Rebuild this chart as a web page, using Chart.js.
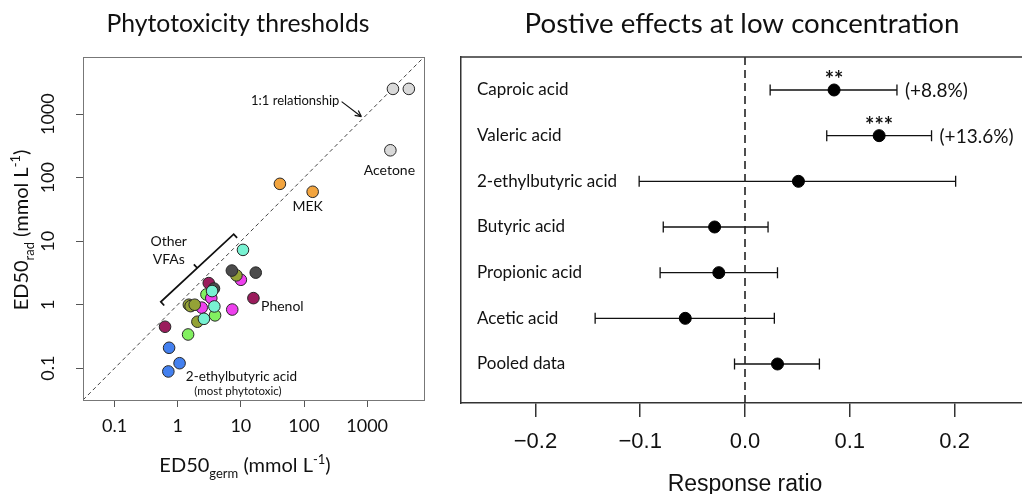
<!DOCTYPE html>
<html>
<head>
<meta charset="utf-8">
<script src="https://cdn.jsdelivr.net/npm/chart.js@4.4.1/dist/chart.umd.min.js"></script>
<style>
  html, body { margin: 0; padding: 0; background: #fff; overflow: hidden; width: 1022px; height: 494px; }
  #left { position: absolute; left: 0; top: 0; }
  #right { position: absolute; left: 450px; top: 0; }
</style>
</head>
<body>
<canvas id="left" width="450" height="494"></canvas>
<canvas id="right" width="590" height="494"></canvas>
<script>
// ---- left panel: ED50 (mmol/L), germination on x, radicle on y
const acetoneX = [2560, 4570, 2330];
const acetoneY = [2500, 2500, 270];
const mekX = [41.5, 137];
const mekY = [80, 60];
const phenolX = [15.8, 3.1, 0.63];
const phenolY = [1.27, 2.19, 0.45];
const ethylbutyricX = [0.73, 1.07, 0.71];
const ethylbutyricY = [0.21, 0.12, 0.089];
const vfaDarkX = [7.2, 17.2, 3.75];
const vfaDarkY = [3.45, 3.2, 1.8];
const vfaOliveX = [8.5, 1.5, 1.6, 1.86, 2.05];
const vfaOliveY = [2.9, 1.0, 0.95, 1.0, 0.54];
const vfaMagentaX = [10, 3.4, 2.4, 7.3];
const vfaMagentaY = [2.47, 1.27, 0.9, 0.84];
const vfaCyanX = [10.8, 3.5, 3.8, 2.6];
const vfaCyanY = [7.3, 1.64, 0.94, 0.6];
const vfaGreenX = [2.85, 3.9, 1.46];
const vfaGreenY = [1.45, 0.68, 0.34];
const thresholdTicks = [0.1, 1, 10, 100, 1000];
const axisRange = [Math.pow(10, -1.5), Math.pow(10, 3.9)];

// ---- right panel: response ratio at low concentration
const acids = ['Caproic acid', 'Valeric acid', '2-ethylbutyric acid', 'Butyric acid', 'Propionic acid', 'Acetic acid', 'Pooled data'];
const ratio = [0.085, 0.128, 0.051, -0.029, -0.025, -0.057, 0.031];
const ciLow = [0.024, 0.078, -0.101, -0.078, -0.081, -0.143, -0.010];
const ciHigh = [0.145, 0.178, 0.201, 0.022, 0.031, 0.028, 0.071];
const stars = ['**', '***', '', '', '', '', ''];
const changes = ['(+8.8%)', '(+13.6%)', '', '', '', '', ''];
const ratioTicks = [-0.2, -0.1, 0, 0.1, 0.2];

const CAL = 'Lato, "Open Sans", sans-serif';
const ARIAL = '"Liberation Sans", Arial, sans-serif';

function fitSize(ctx, text, family, width) {
  ctx.font = '100px ' + family;
  return 100 * width / ctx.measureText(text).width;
}

// text with sub/superscript pieces, centred on x, baseline at y
function richText(ctx, parts, x, y, size, family, rotate) {
  ctx.save();
  ctx.translate(x, y);
  if (rotate) ctx.rotate(-Math.PI / 2);
  const fontFor = m => (m ? Math.round(size * 0.66) : size) + 'px ' + family;
  let w = 0;
  parts.forEach(([t, m]) => { ctx.font = fontFor(m); w += ctx.measureText(t).width; });
  let cx = -w / 2;
  ctx.textBaseline = 'alphabetic';
  ctx.textAlign = 'left';
  ctx.fillStyle = '#111';
  parts.forEach(([t, m]) => {
    ctx.font = fontFor(m);
    const dy = m === -1 ? size * 0.3 : m === 1 ? -size * 0.4 : 0;
    ctx.fillText(t, cx, dy);
    cx += ctx.measureText(t).width;
  });
  ctx.restore();
}

// ================= left chart =================
const groups = [
  { x: acetoneX, y: acetoneY, color: '#d9d9d9' },
  { x: mekX, y: mekY, color: '#f2a43e' },
  { x: vfaCyanX, y: vfaCyanY, color: '#78f2d2' },
  { x: vfaDarkX, y: vfaDarkY, color: '#4b4b4b' },
  { x: vfaOliveX, y: vfaOliveY, color: '#94a236' },
  { x: vfaMagentaX, y: vfaMagentaY, color: '#ee40ee' },
  { x: vfaGreenX, y: vfaGreenY, color: '#82f060' },
  { x: phenolX, y: phenolY, color: '#9a1c5c' },
  { x: ethylbutyricX, y: ethylbutyricY, color: '#4380ef' }
];

const leftNotes = [
  { text: '1:1 relationship', x: 363, y: 1630, align: 'right', size: 13 },
  { text: 'Acetone', x: 2250, y: 131, size: 14 },
  { text: 'MEK', x: 114, y: 35, size: 14 },
  { text: 'Other', x: 0.72, y: 9.8, size: 14 },
  { text: 'VFAs', x: 0.72, y: 5.07, size: 14 },
  { text: 'Phenol', x: 45.4, y: 0.94, size: 14 },
  { text: '2-ethylbutyric acid', x: 10.2, y: 0.0736, size: 13.5 },
  { text: '(most phytotoxic)', x: 9.0, y: 0.0437, size: 11.5 }
];

const leftDecor = {
  id: 'leftDecor',
  afterDraw(chart) {
    const { ctx, chartArea: a, scales: { x, y } } = chart;
    ctx.save();
    // box
    ctx.strokeStyle = '#777';
    ctx.lineWidth = 1;
    ctx.strokeRect(a.left + 0.5, a.top + 0.5, a.right - a.left, a.bottom - a.top);
    // notes
    ctx.fillStyle = '#111';
    ctx.textBaseline = 'middle';
    leftNotes.forEach(n => {
      ctx.font = n.size + 'px ' + CAL;
      ctx.textAlign = n.align || 'center';
      ctx.fillText(n.text, x.getPixelForValue(n.x), y.getPixelForValue(n.y));
    });
    // arrow to the 1:1 line
    const ax0 = x.getPixelForValue(394), ay0 = y.getPixelForValue(1575);
    const ax1 = x.getPixelForValue(813), ay1 = y.getPixelForValue(912);
    ctx.strokeStyle = '#111';
    ctx.lineWidth = 1.2;
    ctx.beginPath();
    ctx.moveTo(ax0, ay0); ctx.lineTo(ax1, ay1);
    const ang = Math.atan2(ay1 - ay0, ax1 - ax0);
    [0.45, -0.45].forEach(d => {
      ctx.moveTo(ax1, ay1);
      ctx.lineTo(ax1 - 7 * Math.cos(ang + d), ay1 - 7 * Math.sin(ang + d));
    });
    ctx.stroke();
    // bracket for other VFAs
    const bx0 = x.getPixelForValue(0.54), by0 = y.getPixelForValue(1.11);
    const bx1 = x.getPixelForValue(7.7), by1 = y.getPixelForValue(12.9);
    const len = Math.hypot(bx1 - bx0, by1 - by0);
    const px = -(by1 - by0) / len * 5, py = (bx1 - bx0) / len * 5;
    const mx = (bx0 + bx1) / 2, my = (by0 + by1) / 2;
    ctx.lineWidth = 1.8;
    ctx.beginPath();
    ctx.moveTo(bx0 + px, by0 + py); ctx.lineTo(bx0, by0); ctx.lineTo(bx1, by1); ctx.lineTo(bx1 + px, by1 + py);
    ctx.moveTo(mx, my); ctx.lineTo(mx - px, my - py);
    ctx.stroke();
    // title
    const ts = fitSize(ctx, 'Phytotoxicity thresholds', CAL, 263);
    ctx.font = ts + 'px ' + CAL;
    ctx.textAlign = 'center';
    ctx.textBaseline = 'alphabetic';
    ctx.fillText('Phytotoxicity thresholds', 238, 32);
    ctx.restore();
    // axis titles
    richText(ctx, [['ED50', 0], ['germ', -1], [' (mmol L', 0], ['-1', 1], [')', 0]], 245, 472, 20, CAL, false);
    richText(ctx, [['ED50', 0], ['rad', -1], [' (mmol L', 0], ['-1', 1], [')', 0]], 28, 230, 20, CAL, true);
  }
};

const leftDatasets = groups.map(g => ({
  type: 'scatter',
  data: g.x.map((v, i) => ({ x: v, y: g.y[i] })),
  backgroundColor: g.color,
  borderColor: '#262626',
  borderWidth: 1,
  pointRadius: 5.8,
  order: 0
}));
leftDatasets.push({
  type: 'line',
  data: axisRange.map(v => ({ x: v, y: v })),
  borderColor: '#444',
  borderWidth: 1,
  borderDash: [4, 3],
  pointRadius: 0,
  fill: false,
  order: 1
});

new Chart(document.getElementById('left'), {
  type: 'scatter',
  data: { datasets: leftDatasets },
  options: {
    responsive: false,
    animation: false,
    layout: { padding: { top: 57, right: 26, left: 0, bottom: 0 } },
    plugins: { legend: { display: false }, tooltip: { enabled: false }, title: { display: false } },
    scales: {
      x: {
        type: 'logarithmic',
        min: axisRange[0], max: axisRange[1],
        afterBuildTicks: s => { s.ticks = thresholdTicks.map(v => ({ value: v })); },
        afterFit: s => { s.height = 94; },
        grid: { drawOnChartArea: false, drawTicks: true, tickLength: 7, color: '#555' },
        border: { display: false },
        ticks: { callback: v => String(v), font: { family: CAL, size: 18 }, color: '#111', padding: 8, maxRotation: 0, autoSkip: false }
      },
      y: {
        type: 'logarithmic',
        min: axisRange[0], max: axisRange[1],
        afterBuildTicks: s => { s.ticks = thresholdTicks.map(v => ({ value: v })); },
        afterFit: s => { s.width = 83; },
        grid: { drawOnChartArea: false, drawTicks: true, tickLength: 7, color: '#555' },
        border: { display: false },
        ticks: { callback: v => String(v), font: { family: CAL, size: 18 }, color: '#111', padding: 7,
                 minRotation: 90, maxRotation: 90, crossAlign: 'center', autoSkip: false }
      }
    }
  },
  plugins: [leftDecor]
});

// ================= right chart =================
const rowMin = 0.2775, rowMax = 7.854;

const rightDecor = {
  id: 'rightDecor',
  beforeDatasetsDraw(chart) {
    const { ctx, scales: { x, y } } = chart;
    ctx.save();
    ctx.strokeStyle = '#111';
    ctx.lineWidth = 1.3;
    acids.forEach((a, i) => {
      const py = y.getPixelForValue(i + 1);
      const x0 = x.getPixelForValue(ciLow[i]), x1 = x.getPixelForValue(ciHigh[i]);
      ctx.beginPath();
      ctx.moveTo(x0, py); ctx.lineTo(x1, py);
      ctx.moveTo(x0, py - 5.5); ctx.lineTo(x0, py + 5.5);
      ctx.moveTo(x1, py - 5.5); ctx.lineTo(x1, py + 5.5);
      ctx.stroke();
    });
    ctx.restore();
  },
  afterDraw(chart) {
    const { ctx, chartArea: a, scales: { x, y } } = chart;
    ctx.save();
    ctx.strokeStyle = '#333';
    ctx.lineWidth = 1.5;
    ctx.beginPath();
    ctx.moveTo(a.left, a.top); ctx.lineTo(a.right, a.top);
    ctx.stroke();
    ctx.fillStyle = '#111';
    acids.forEach((a2, i) => {
      const py = y.getPixelForValue(i + 1);
      if (stars[i]) {
        ctx.font = 'bold 22px ' + CAL;
        ctx.textAlign = 'center';
        ctx.textBaseline = 'middle';
        ctx.fillText(stars[i], x.getPixelForValue(ratio[i]), py - 10);
      }
      if (changes[i]) {
        ctx.font = '19px ' + CAL;
        ctx.textAlign = 'left';
        ctx.textBaseline = 'middle';
        ctx.fillText(changes[i], x.getPixelForValue(ciHigh[i]) + 8, py + 1);
      }
    });
    const ts = fitSize(ctx, 'Postive effects at low concentration', CAL, 435);
    ctx.font = ts + 'px ' + CAL;
    ctx.textAlign = 'center';
    ctx.textBaseline = 'alphabetic';
    ctx.fillText('Postive effects at low concentration', 292, 33);
    ctx.font = '23px ' + ARIAL;
    ctx.fillText('Response ratio', x.getPixelForValue(0), 491);
    ctx.restore();
  }
};

new Chart(document.getElementById('right'), {
  type: 'scatter',
  data: {
    datasets: [
      {
        data: acids.map((a, i) => ({ x: ratio[i], y: i + 1 })),
        backgroundColor: '#000',
        borderColor: '#000',
        pointRadius: 6,
        order: 0
      },
      {
        type: 'line',
        data: [{ x: 0, y: rowMin }, { x: 0, y: rowMax }],
        borderColor: '#222',
        borderWidth: 1.6,
        borderDash: [8, 5],
        pointRadius: 0,
        order: 1
      }
    ]
  },
  options: {
    responsive: false,
    animation: false,
    layout: { padding: { top: 57, right: 11, left: 0, bottom: 0 } },
    plugins: { legend: { display: false }, tooltip: { enabled: false }, title: { display: false } },
    scales: {
      x: {
        type: 'linear',
        min: -0.271, max: 0.271,
        afterBuildTicks: s => { s.ticks = ratioTicks.map(v => ({ value: v })); },
        afterFit: s => { s.height = 91; },
        grid: { drawOnChartArea: false, drawTicks: true, tickLength: 14, color: '#333', lineWidth: 1.5 },
        border: { display: true, color: '#333', width: 1.5 },
        ticks: { callback: v => v.toFixed(1).replace('-', '\u2212'), font: { family: ARIAL, size: 22 }, color: '#111', padding: 12, maxRotation: 0, autoSkip: false }
      },
      y: {
        type: 'linear',
        reverse: true,
        min: rowMin, max: rowMax,
        afterBuildTicks: s => { s.ticks = acids.map((a, i) => ({ value: i + 1 })); },
        afterFit: s => { s.width = 11; },
        grid: { display: false },
        border: { display: true, color: '#333', width: 1.5 },
        ticks: { callback: v => acids[v - 1], mirror: true, padding: 16, font: { family: CAL, size: 17 }, color: '#111', autoSkip: false }
      }
    }
  },
  plugins: [rightDecor]
});
</script>
</body>
</html>
